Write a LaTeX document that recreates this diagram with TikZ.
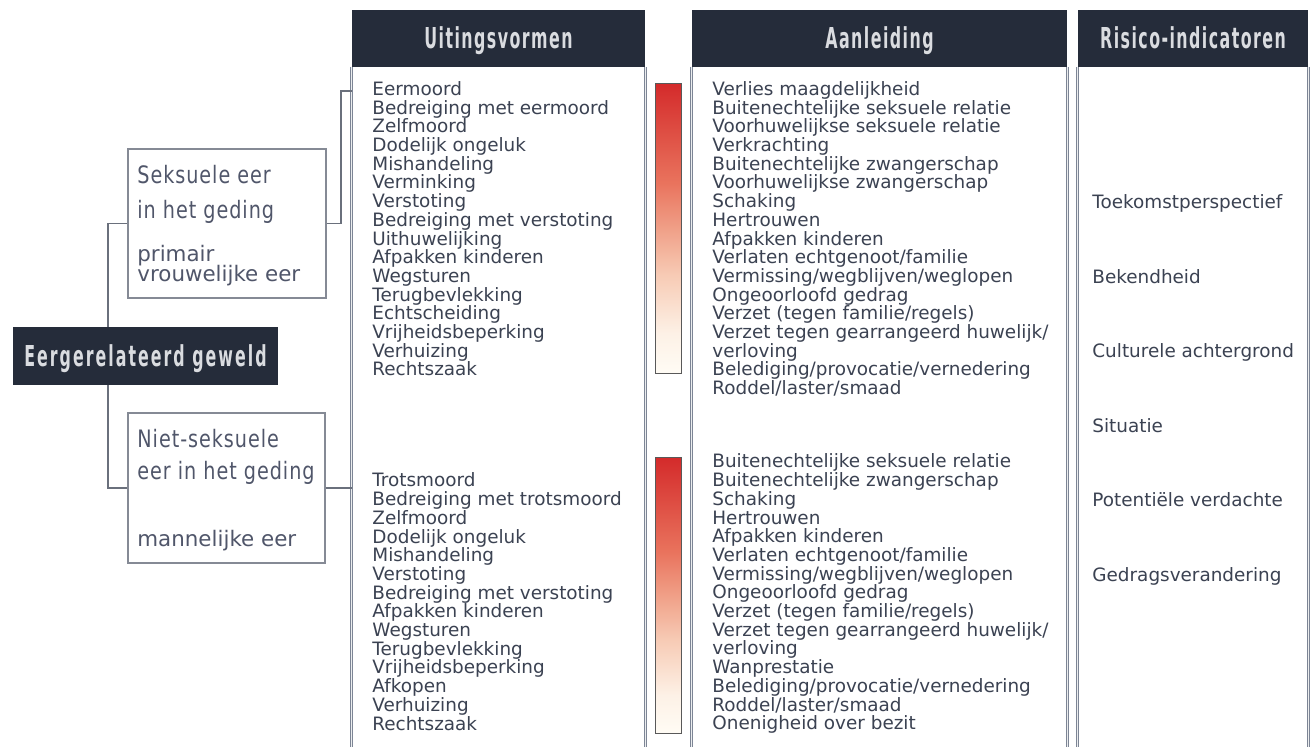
\documentclass[tikz,border=0pt]{standalone}
\usepackage{fontspec}
\setmainfont{DejaVu Sans}
\newfontfamily\headfont[FakeStretch=0.55,LetterSpace=5]{DejaVu Sans Bold}
\newfontfamily\rootfont[FakeStretch=0.55,LetterSpace=7]{DejaVu Sans Bold}
\newfontfamily\titlefont[FakeStretch=0.8,LetterSpace=4]{DejaVu Sans}
\usetikzlibrary{calc}
\definecolor{headfill}{HTML}{252C3A}
\definecolor{headtext}{HTML}{DADCE0}
\definecolor{bodytext}{HTML}{3B4252}
\definecolor{titletext}{HTML}{50566A}
\definecolor{boxline}{HTML}{858A95}
\definecolor{connline}{HTML}{6A707C}
\definecolor{colline}{HTML}{7D8595}
\definecolor{barA}{HTML}{D42B2B}
\definecolor{barB}{HTML}{E9735D}
\definecolor{barC}{HTML}{F0A088}
\definecolor{barD}{HTML}{F7CBB5}
\definecolor{barE}{HTML}{FDF1E6}
\definecolor{barF}{HTML}{FFFCF5}
\pgfdeclareverticalshading{riskbar}{100bp}{color(0bp)=(barF); color(25bp)=(barF); color(32bp)=(barE); color(42bp)=(barD); color(50bp)=(barC); color(58bp)=(barB); color(75bp)=(barA); color(100bp)=(barA)}
\tikzset{
  header/.style={fill=headfill, text=headtext, inner sep=0pt, minimum height=28.5pt,
    text height=10.5pt, text depth=0pt, font=\headfont\fontsize{14.4}{16}\selectfont},
  rootbox/.style={fill=headfill, text=headtext, inner sep=0pt, minimum width=132.5pt,
    minimum height=29pt, text height=10.5pt, text depth=0pt, font=\rootfont\fontsize{14.4}{16}\selectfont},
  catbox/.style={draw=boxline, line width=0.75pt, fill=white, inner sep=0pt},
  cattitle/.style={anchor=base west, inner sep=0pt, text=titletext, font=\titlefont\fontsize{12}{13}\selectfont},
  catsub/.style={anchor=base west, inner sep=0pt, text=titletext, font=\fontsize{10.7}{12}\selectfont},
  item/.style={anchor=base west, inner sep=0pt, text=bodytext, font=\fontsize{9.2}{9.4}\selectfont},
  conn/.style={draw=connline, line width=0.75pt},
  colborder/.style={draw=colline, line width=0.4pt, double=white!85!colline, double distance=0.45pt},
  riskbox/.style={draw=black!65, line width=0.5pt, shading=riskbar}
}
\begin{document}
\begin{tikzpicture}[x=0.5pt,y=-0.5pt]
\useasboundingbox[fill=white] (0,0) rectangle (1314,747);
\coordinate (bottom) at (0,747);
% column headers
\node[header, minimum width=146.5pt] (hU) at (498.5,38.5) {Uitingsvormen};
\node[header, minimum width=187.5pt] (hA) at (879.5,38.5) {Aanleiding};
\node[header, minimum width=115pt] (hR) at (1193,38.5) {Risico-indicatoren};
% column borders
\foreach \h in {hU,hA,hR}{
  \draw[colborder] (\h.south west) -- (\h.south west |- bottom);
  \draw[colborder] (\h.south east) -- (\h.south east |- bottom);
}
% risk bars
\path[riskbox] (655,84) rectangle (681,374);
\path[riskbox] (655,458) rectangle (681,734);
% left tree
\node[rootbox] (root) at (145.5,356) {Eergerelateerd geweld};
\node[catbox, minimum width=99pt, minimum height=74.5pt] (sek) at (227,223.5) {};
\node[catbox, minimum width=98.5pt, minimum height=75pt] (niet) at (226.5,488) {};
\node[cattitle] (sekA) at (137,184) {Seksuele eer};
\node[cattitle] (sekB) at (137,219) {in het geding};
\node[catsub] (sekC) at (137,262) {primair};
\node[catsub] (sekD) at (137,282) {vrouwelijke eer};
\node[cattitle] (nietA) at (137,448) {Niet-seksuele};
\node[cattitle] (nietB) at (137,480) {eer in het geding};
\node[catsub] (nietC) at (137,547) {mannelijke eer};
\coordinate (uTop) at (352,91);
\draw[conn] ($(root.north)+(-37.5,0)$) |- (sek.west);
\draw[conn] ($(root.south)+(-37.5,0)$) |- (niet.west);
\draw[conn] (sek.east) -- ++(14,0) |- (uTop);
\draw[conn] (niet.east) -- (niet.east -| hU.west);
% Uitingsvormen lists
\foreach \t [count=\i] in {{Eermoord},{Bedreiging met eermoord},{Zelfmoord},{Dodelijk ongeluk},{Mishandeling},{Verminking},{Verstoting},{Bedreiging met verstoting},{Uithuwelijking},{Afpakken kinderen},{Wegsturen},{Terugbevlekking},{Echtscheiding},{Vrijheidsbeperking},{Verhuizing},{Rechtszaak}}
  \node[item] (ua\i) at (372,{95.5+(\i-1)*18.7}) {\t};
\foreach \t [count=\i] in {{Trotsmoord},{Bedreiging met trotsmoord},{Zelfmoord},{Dodelijk ongeluk},{Mishandeling},{Verstoting},{Bedreiging met verstoting},{Afpakken kinderen},{Wegsturen},{Terugbevlekking},{Vrijheidsbeperking},{Afkopen},{Verhuizing},{Rechtszaak}}
  \node[item] (ub\i) at (372,{487+(\i-1)*18.7}) {\t};
% Aanleiding lists
\foreach \t [count=\i] in {{Verlies maagdelijkheid},{Buitenechtelijke seksuele relatie},{Voorhuwelijkse seksuele relatie},{Verkrachting},{Buitenechtelijke zwangerschap},{Voorhuwelijkse zwangerschap},{Schaking},{Hertrouwen},{Afpakken kinderen},{Verlaten echtgenoot/familie},{Vermissing/wegblijven/weglopen},{Ongeoorloofd gedrag},{Verzet (tegen familie/regels)},{Verzet tegen gearrangeerd huwelijk/},{verloving},{Belediging/provocatie/vernedering},{Roddel/laster/smaad}}
  \node[item] (aa\i) at (712,{95.5+(\i-1)*18.7}) {\t};
\foreach \t [count=\i] in {{Buitenechtelijke seksuele relatie},{Buitenechtelijke zwangerschap},{Schaking},{Hertrouwen},{Afpakken kinderen},{Verlaten echtgenoot/familie},{Vermissing/wegblijven/weglopen},{Ongeoorloofd gedrag},{Verzet (tegen familie/regels)},{Verzet tegen gearrangeerd huwelijk/},{verloving},{Wanprestatie},{Belediging/provocatie/vernedering},{Roddel/laster/smaad},{Onenigheid over bezit}}
  \node[item] (ab\i) at (712,{468+(\i-1)*18.7}) {\t};
% Risico-indicatoren
\foreach \t [count=\i] in {{Toekomstperspectief},{Bekendheid},{Culturele achtergrond},{Situatie},{Potentiële verdachte},{Gedragsverandering}}
  \node[item] (r\i) at (1092,{209+(\i-1)*74.5}) {\t};
\end{tikzpicture}
\end{document}
